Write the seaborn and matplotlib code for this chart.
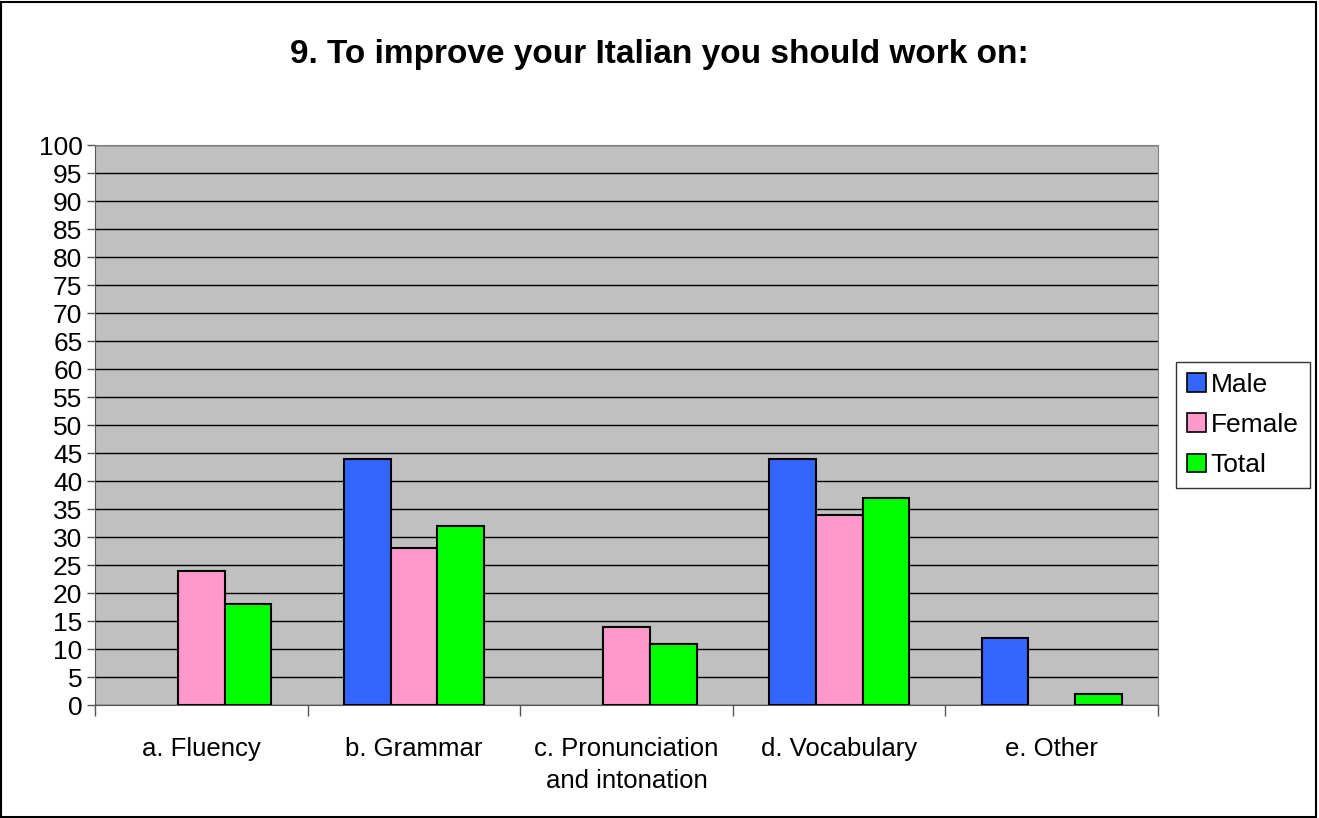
import pandas as pd
import seaborn as sns
import matplotlib.pyplot as plt
from matplotlib.patches import Rectangle
from matplotlib.ticker import FixedLocator

# data
categories = ['a. Fluency', 'b. Grammar', 'c. Pronunciation\nand intonation',
              'd. Vocabulary', 'e. Other']
male = [0, 44, 0, 44, 12]
female = [24, 28, 14, 34, 0]
total = [18, 32, 11, 37, 2]
series = ['Male', 'Female', 'Total']
colours = ['#3366FF', '#FF99CC', '#00FF00']

df = pd.DataFrame({'category': categories * 3,
                   'group': [s for s in series for _ in categories],
                   'value': male + female + total})

sns.set_style('white')
plt.rcParams['font.family'] = ['Liberation Sans', 'DejaVu Sans']
plt.rcParams['text.color'] = 'black'

fig = plt.figure(figsize=(13.19, 8.18), dpi=100)
ax = fig.add_axes([0.072, 0.138, 0.806, 0.6847])

sns.barplot(data=df, x='category', y='value', hue='group', palette=colours,
            width=0.66, edgecolor='black', linewidth=1.5, saturation=1,
            errorbar=None, ax=ax, zorder=3)

# empty bars leave no outline in the original
for bars in ax.containers:
    for p in bars:
        if p.get_height() == 0:
            p.set_linewidth(0)

ax.set_facecolor('#C0C0C0')
ax.set_ylim(0, 100)
ax.set_xlim(-0.5, len(categories) - 0.5)
ax.set_yticks(range(0, 101, 5))
ax.yaxis.grid(True, color='black', linewidth=1)
ax.set_axisbelow(True)
ax.tick_params(axis='y', labelsize=19, length=6, width=1, color='#555555',
               labelcolor='black', left=True, pad=3)
ax.tick_params(axis='x', which='major', labelsize=18.5, length=0, pad=23,
               labelcolor='black')
for lab in ax.get_xticklabels():
    lab.set_linespacing(1.4)
ax.xaxis.set_minor_locator(FixedLocator([i - 0.5 for i in range(len(categories) + 1)]))
ax.tick_params(axis='x', which='minor', length=8, width=1, color='#555555', bottom=True)
ax.set_xlabel('')
ax.set_ylabel('')
for side in ['top', 'right', 'left', 'bottom']:
    ax.spines[side].set_color('#808080')
ax.spines['bottom'].set_color('#555555')
ax.spines['left'].set_color('#555555')

fig.suptitle('9. To improve your Italian you should work on:', fontsize=24,
             fontweight='bold', y=0.952, color='black')

leg = ax.legend(loc='center left', bbox_to_anchor=(0.8916, 0.4805), bbox_transform=fig.transFigure,
                fontsize=19, frameon=True, fancybox=False, edgecolor='black',
                handlelength=0.7, handleheight=0.7, handletextpad=0.2,
                borderpad=0.42, labelspacing=0.62, borderaxespad=0)
leg.get_frame().set_linewidth(1)
for t in leg.get_texts():
    t.set_color('black')
for h in leg.legend_handles:
    h.set_edgecolor('black')
    h.set_linewidth(1.2)

# border round the whole picture
fig.patches.append(Rectangle((0.001, 0.001), 0.997, 0.997, transform=fig.transFigure,
                             fill=False, edgecolor='black', linewidth=1.5))

plt.savefig('out.png', dpi=100)
plt.close()
